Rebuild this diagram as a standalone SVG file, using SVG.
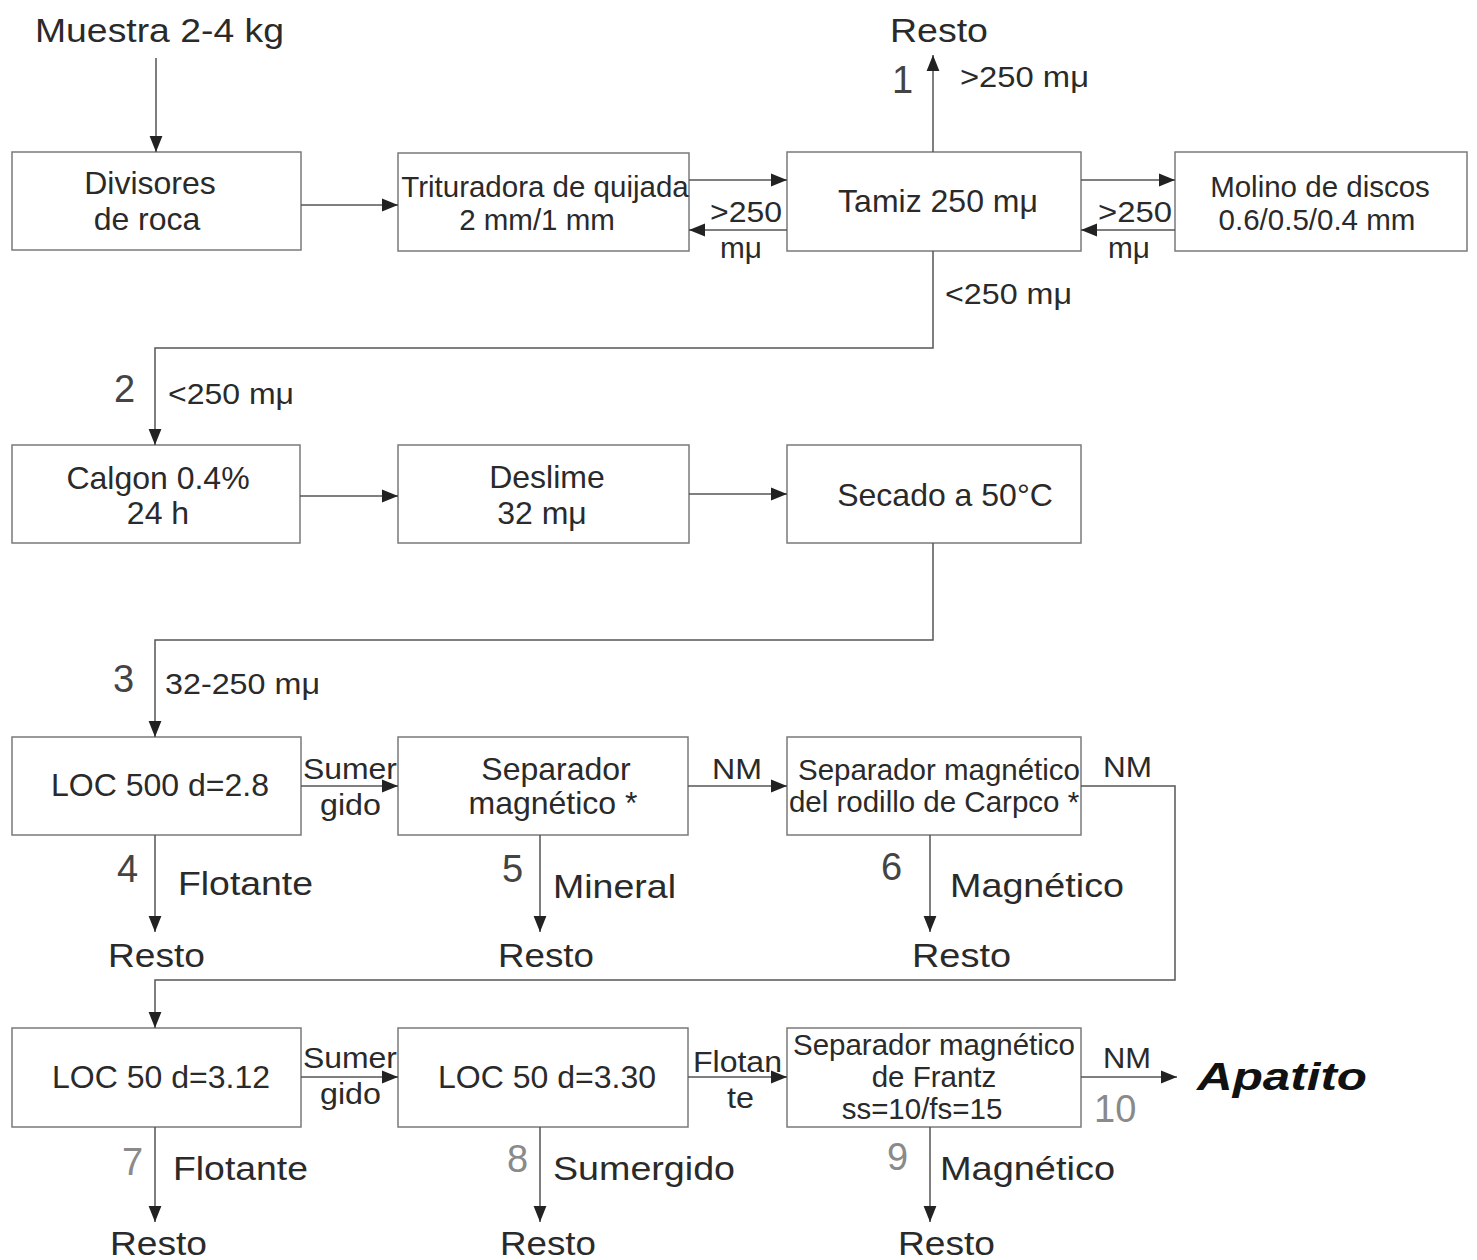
<svg xmlns="http://www.w3.org/2000/svg" width="1477" height="1260" viewBox="0 0 1477 1260">
<defs>
<marker id="ahb" viewBox="0 0 10 10" refX="10" refY="5" markerWidth="16" markerHeight="16" markerUnits="userSpaceOnUse" orient="auto">
<path d="M0,1 L10,5 L0,9 z" fill="#222"/>
</marker>
</defs>
<style>
text{font-family:"Liberation Sans",Arial,sans-serif;fill:#2a2a2a}
.box{fill:#fff;stroke:#7a7a7a;stroke-width:1.5}
.bt{font-size:32px;text-anchor:middle}
.bs{font-size:29.5px;text-anchor:middle}
.lab{font-size:29px}
.big{font-size:33px}
.num{font-size:38px;fill:#444}
.numg{font-size:38px;fill:#8a8a8a}
.c{fill:none;stroke:#555;stroke-width:1.5;marker-end:url(#ahb)}
</style>
<rect width="1477" height="1260" fill="#fff"/>

<text class="big" x="35" y="42" textLength="249" lengthAdjust="spacingAndGlyphs">Muestra 2-4 kg</text>

<g id="n-divisores"><rect class="box" x="12" y="152" width="289" height="98"/><text class="bt" x="150" y="194">Divisores</text><text class="bt" x="147" y="230">de roca</text></g>
<g id="n-trituradora"><rect class="box" x="398" y="153" width="291" height="98"/><text class="bs" x="545" y="197">Trituradora de quijada</text><text class="bs" x="537" y="230">2 mm/1 mm</text></g>
<g id="n-tamiz"><rect class="box" x="787" y="152" width="294" height="99"/><text class="bt" x="938" y="212">Tamiz 250 mμ</text></g>
<g id="n-molino"><rect class="box" x="1175" y="152" width="292" height="99"/><text class="bs" x="1320" y="197">Molino de discos</text><text class="bs" x="1317" y="230">0.6/0.5/0.4 mm</text></g>

<g id="n-calgon"><rect class="box" x="12" y="445" width="288" height="98"/><text class="bt" x="158" y="489">Calgon 0.4%</text><text class="bt" x="158" y="524">24 h</text></g>
<g id="n-deslime"><rect class="box" x="398" y="445" width="291" height="98"/><text class="bt" x="547" y="488">Deslime</text><text class="bt" x="542" y="524">32 mμ</text></g>
<g id="n-secado"><rect class="box" x="787" y="445" width="294" height="98"/><text class="bt" x="945" y="506">Secado a 50°C</text></g>

<g id="n-loc500"><rect class="box" x="12" y="737" width="289" height="98"/><text class="bt" x="160" y="796">LOC 500 d=2.8</text></g>
<g id="n-sepmag"><rect class="box" x="398" y="737" width="290" height="98"/><text class="bt" x="556" y="780">Separador</text><text class="bt" x="553" y="814">magnético *</text></g>
<g id="n-carpco"><rect class="box" x="787" y="737" width="294" height="98"/><text class="bs" x="939" y="780">Separador magnético</text><text class="bs" x="934" y="812">del rodillo de Carpco *</text></g>

<g id="n-loc50a"><rect class="box" x="12" y="1028" width="289" height="99"/><text class="bt" x="161" y="1088">LOC 50 d=3.12</text></g>
<g id="n-loc50b"><rect class="box" x="398" y="1028" width="290" height="99"/><text class="bt" x="547" y="1088">LOC 50 d=3.30</text></g>
<g id="n-frantz"><rect class="box" x="787" y="1028" width="294" height="99"/><text class="bs" x="934" y="1055">Separador magnético</text><text class="bs" x="934" y="1087">de Frantz</text><text class="bs" x="922" y="1119">ss=10/fs=15</text></g>

<g id="n-apatito"><text x="1197" y="1090" font-size="38" font-weight="bold" font-style="italic" style="fill:#111" textLength="170" lengthAdjust="spacingAndGlyphs">Apatito</text></g>

<g id="connectors">
<path class="c" d="M156,58 V152"/>
<path class="c" d="M301,205 H398"/>
<path class="c" d="M689,180 H787"/>
<path class="c" d="M787,230 H689"/>
<path class="c" d="M1081,180 H1175"/>
<path class="c" d="M1175,230 H1081"/>
<path class="c" d="M933,152 V55"/>
<path class="c" d="M933,251 V348 H155 V445"/>
<path class="c" d="M300,496 H398"/>
<path class="c" d="M689,494 H787"/>
<path class="c" d="M933,543 V640 H155 V737"/>
<path class="c" d="M301,786 H398"/>
<path class="c" d="M688,786 H787"/>
<path class="c" d="M1081,786 H1175 V980 H155 V1028"/>
<path class="c" d="M155,835 V932"/>
<path class="c" d="M540,835 V932"/>
<path class="c" d="M930,835 V932"/>
<path class="c" d="M301,1077 H398"/>
<path class="c" d="M688,1077 H787"/>
<path class="c" d="M1081,1077 H1177"/>
<path class="c" d="M155,1127 V1222"/>
<path class="c" d="M540,1127 V1222"/>
<path class="c" d="M930,1127 V1222"/>
</g>

<g id="labels">
<text class="big" x="890" y="42" textLength="98" lengthAdjust="spacingAndGlyphs">Resto</text>
<text class="num" x="892" y="93">1</text>
<text class="lab" x="960" y="87" textLength="129" lengthAdjust="spacingAndGlyphs">&gt;250 mμ</text>
<text class="lab" x="710" y="222" textLength="72" lengthAdjust="spacingAndGlyphs">&gt;250</text>
<text class="lab" x="720" y="258" textLength="42" lengthAdjust="spacingAndGlyphs">mμ</text>
<text class="lab" x="1098" y="222" textLength="74" lengthAdjust="spacingAndGlyphs">&gt;250</text>
<text class="lab" x="1108" y="258" textLength="42" lengthAdjust="spacingAndGlyphs">mμ</text>
<text class="lab" x="945" y="304" textLength="127" lengthAdjust="spacingAndGlyphs">&lt;250 mμ</text>
<text class="num" x="114" y="402">2</text>
<text class="lab" x="168" y="404" textLength="126" lengthAdjust="spacingAndGlyphs">&lt;250 mμ</text>
<text class="num" x="113" y="692">3</text>
<text class="lab" x="165" y="694" textLength="155" lengthAdjust="spacingAndGlyphs">32-250 mμ</text>
<text class="lab" x="303" y="779" textLength="94" lengthAdjust="spacingAndGlyphs">Sumer</text>
<text class="lab" x="320" y="815" textLength="61" lengthAdjust="spacingAndGlyphs">gido</text>
<text class="lab" x="712" y="779" textLength="50" lengthAdjust="spacingAndGlyphs">NM</text>
<text class="lab" x="1103" y="777" textLength="49" lengthAdjust="spacingAndGlyphs">NM</text>
<text class="num" x="117" y="882">4</text>
<text class="big" x="178" y="895" textLength="135" lengthAdjust="spacingAndGlyphs">Flotante</text>
<text class="big" x="108" y="967" textLength="97" lengthAdjust="spacingAndGlyphs">Resto</text>
<text class="num" x="502" y="882">5</text>
<text class="big" x="553" y="898" textLength="123" lengthAdjust="spacingAndGlyphs">Mineral</text>
<text class="big" x="498" y="967" textLength="96" lengthAdjust="spacingAndGlyphs">Resto</text>
<text class="num" x="881" y="880">6</text>
<text class="big" x="950" y="897" textLength="174" lengthAdjust="spacingAndGlyphs">Magnético</text>
<text class="big" x="912" y="967" textLength="99" lengthAdjust="spacingAndGlyphs">Resto</text>
<text class="lab" x="303" y="1068" textLength="94" lengthAdjust="spacingAndGlyphs">Sumer</text>
<text class="lab" x="320" y="1104" textLength="61" lengthAdjust="spacingAndGlyphs">gido</text>
<text class="lab" x="693" y="1072" textLength="89" lengthAdjust="spacingAndGlyphs">Flotan</text>
<text class="lab" x="727" y="1108" textLength="27" lengthAdjust="spacingAndGlyphs">te</text>
<text class="lab" x="1103" y="1068" textLength="48" lengthAdjust="spacingAndGlyphs">NM</text>
<text class="numg" x="1094" y="1122">10</text>
<text class="numg" x="122" y="1175">7</text>
<text class="big" x="173" y="1180" textLength="135" lengthAdjust="spacingAndGlyphs">Flotante</text>
<text class="big" x="110" y="1255" textLength="97" lengthAdjust="spacingAndGlyphs">Resto</text>
<text class="numg" x="507" y="1172">8</text>
<text class="big" x="553" y="1180" textLength="182" lengthAdjust="spacingAndGlyphs">Sumergido</text>
<text class="big" x="500" y="1255" textLength="96" lengthAdjust="spacingAndGlyphs">Resto</text>
<text class="numg" x="887" y="1170">9</text>
<text class="big" x="940" y="1180" textLength="175" lengthAdjust="spacingAndGlyphs">Magnético</text>
<text class="big" x="898" y="1255" textLength="97" lengthAdjust="spacingAndGlyphs">Resto</text>
</g>
</svg>
